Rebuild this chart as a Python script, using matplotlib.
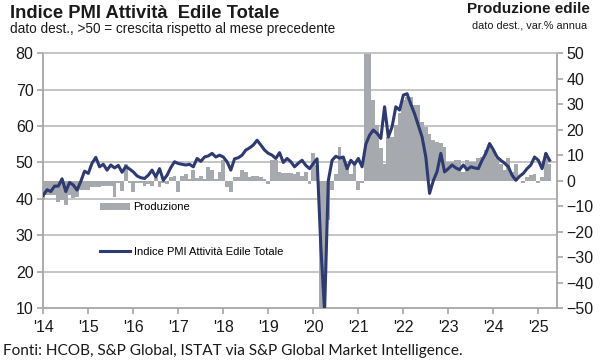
import numpy as np
import matplotlib.pyplot as plt
from matplotlib.patches import Patch
from matplotlib.lines import Line2D

plt.rcParams['font.family'] = ['Liberation Sans', 'DejaVu Sans']

# monthly data, Jan 2014 - Apr 2025
pmi_2014 = [41, 42.5, 42, 43.5, 43.5, 45.5, 42, 44.5, 43.8, 42.4, 44.8, 47.6]
pmi_2015 = [47, 49.8, 51.4, 48.8, 49.5, 47.9, 49.3, 48.5, 49.2, 47.3, 48.9, 48.2]
pmi_2016 = [47.4, 46.3, 45.8, 45.6, 46.5, 47.9, 46, 48.3, 45.1, 46.5, 48.6, 50.2]
pmi_2017 = [49.7, 49.5, 49.3, 49.5, 48.8, 51.1, 50.3, 51.5, 51.8, 52.5, 51.5, 52]
pmi_2018 = [51.5, 50.2, 47.9, 51, 51.3, 52, 53.4, 54, 54.8, 56.1, 54.8, 53.4]
pmi_2019 = [52.5, 52, 51.1, 52.7, 50, 51.1, 50.2, 48.8, 49.8, 50.6, 49.2, 48.3]
pmi_2020 = [49.7, 51, 27, 9, 45, 50.6, 51.7, 51.2, 51.5, 48.3, 50.6, 49.5]
pmi_2021 = [51.1, 48.8, 55, 57.5, 58.9, 58, 56.6, 65.3, 57, 59.8, 65.3, 64.4]
pmi_2022 = [68.5, 68.9, 66, 63.4, 60.2, 57, 51.5, 41.5, 45, 47.5, 52.5, 47.4]
pmi_2023 = [48.3, 49.3, 48.5, 48, 49.3, 48, 48.8, 48.5, 48.3, 50.6, 52.5, 55.2]
pmi_2024 = [53.5, 51.5, 50.6, 49.8, 48.8, 46.5, 45.1, 46.2, 47, 48.3, 49.3, 51.5]
pmi_2025 = [50.6, 48.3, 52.5, 50.6]

prod_2014 = [-7.5, -5.5, -5.5, -5.5, -8.5, -7.5, -9.5, -5.5, -7, -6.5, -3.5, -3.5]
prod_2015 = [-3.5, -2.5, -2.5, -2.5, -2, -2, -2, -6.5, -1, -4, 6.5, -1]
prod_2016 = [-4.4, -1, -1, -2, -1.5, -2, 1, -2.5, -1, -1.5, 1.5, 2]
prod_2017 = [-4.4, 2, 2.5, 0.5, 4, 1, 2, 0.5, 5.5, 4, 0.5, 3.4]
prod_2018 = [8, -2.5, -4.5, 1.5, 1.5, 4, 3.5, 1.5, 2, 2, 1.5, 0.5]
prod_2019 = [-1.5, 8, 8, 3.5, 3, 3, 3, 2.5, 3.5, 2, 3.4, -1.5]
prod_2020 = [10.7, 6, -55, -68, -15.5, -3.7, 2.7, 13.3, 9.3, 5, 2.5, 6.5]
prod_2021 = [-3.7, -1, 65, 120, 31.6, 21.8, 12.7, 6.7, 17, 17, 21.8, 26.5]
prod_2022 = [31.6, 32.9, 32.9, 29.6, 29.6, 23, 21, 18.5, 15.9, 15, 14.6, 13.3]
prod_2023 = [7.3, 7.3, 8, 8, 3.5, 8, 7.3, 7.3, 8.7, 9.3, 12, 14.6]
prod_2024 = [12, 8.7, 6.7, 4.1, 8.7, 3.5, 6.7, 0, -1, 1.5, 2.2, 2.8]
prod_2025 = [-1, 1.5, 10.7, 6.7]

year_labels = ["'14", "'15", "'16", "'17", "'18", "'19", "'20", "'21", "'22", "'23", "'24", "'25"]

pmi = (pmi_2014 + pmi_2015 + pmi_2016 + pmi_2017 + pmi_2018 + pmi_2019
       + pmi_2020 + pmi_2021 + pmi_2022 + pmi_2023 + pmi_2024 + pmi_2025)
prod = (prod_2014 + prod_2015 + prod_2016 + prod_2017 + prod_2018 + prod_2019
        + prod_2020 + prod_2021 + prod_2022 + prod_2023 + prod_2024 + prod_2025)
months = np.arange(len(pmi))

left_lim = (10, 80)
right_lim = (-50, 50)
left_ticks = np.arange(10, 81, 10)
right_ticks = np.arange(-50, 51, 10)


def left_to_right(v):
    return right_lim[0] + (v - left_lim[0]) * (right_lim[1] - right_lim[0]) / (left_lim[1] - left_lim[0])


grid_c = '#BFBFBF'
axis_c = '#A6A6A6'
bar_c = '#A6A9AD'
line_c = '#2E3A72'
text_c = '#1A1A1A'

fig = plt.figure(figsize=(6, 3.6), dpi=100)
ax_bar = fig.add_axes([43.3 / 600, 1 - 308 / 360, (556.7 - 43.3) / 600, (308 - 53.3) / 360])
ax_pmi = ax_bar.twinx()

# production bars on the right scale
ax_bar.bar(months, prod, width=1.0, color=bar_c, linewidth=0, zorder=2)
ax_bar.set_ylim(*right_lim)
ax_bar.set_xlim(0, 136.9)
ax_bar.yaxis.tick_right()
ax_bar.set_yticks(right_ticks)
ax_bar.set_yticks([left_to_right(v) for v in left_ticks[1:]], minor=True)
ax_bar.yaxis.grid(True, which='minor', color=grid_c, lw=1.3)
ax_bar.set_axisbelow(True)
ax_bar.tick_params(axis='y', which='minor', length=0)
ax_bar.tick_params(axis='y', which='major', direction='out', length=4, width=1.2,
                   color=axis_c, labelsize=11.5, labelcolor=text_c, pad=3)
ax_bar.set_xticks(np.arange(0, len(pmi) + 1, 12))
ax_bar.set_xticklabels(year_labels)
ax_bar.tick_params(axis='x', direction='out', length=4, width=1.2, color=axis_c,
                   labelsize=11.5, labelcolor=text_c, pad=5)
for side in ['left', 'right', 'bottom']:
    ax_bar.spines[side].set_color(axis_c)
    ax_bar.spines[side].set_linewidth(1.3)
ax_bar.spines['top'].set_color(grid_c)
ax_bar.spines['top'].set_linewidth(1.3)

# PMI line on the left scale
ax_pmi.plot(months, pmi, color=line_c, lw=2.2, solid_joinstyle='round', zorder=3)
ax_pmi.set_ylim(*left_lim)
ax_pmi.yaxis.tick_left()
ax_pmi.set_yticks(left_ticks)
ax_pmi.tick_params(axis='y', direction='out', length=4, width=1.2, color=axis_c,
                   labelsize=11.5, labelcolor=text_c, pad=3)
for s in ax_pmi.spines.values():
    s.set_visible(False)

handles = [Patch(facecolor=bar_c, edgecolor='none'), Line2D([], [], color=line_c, lw=2.2)]
ax_pmi.legend(handles, ['Produzione', 'Indice PMI Attività Edile Totale'],
              loc='upper left', bbox_to_anchor=(0.111, 0.415), frameon=False,
              fontsize=8, handlelength=2.7, handletextpad=0.3, labelspacing=3.1,
              borderpad=0, borderaxespad=0)

fig.text(10 / 600, 1 - 18.5 / 360, 'Indice PMI Attività  Edile Totale', fontsize=13.2,
         weight='bold', color=text_c, va='baseline')
fig.text(10 / 600, 1 - 33 / 360, 'dato dest., >50 = crescita rispetto al mese precedente',
         fontsize=9.8, color=text_c, va='baseline')
fig.text(590 / 600, 1 - 13 / 360, 'Produzione edile', fontsize=11, weight='bold',
         color=text_c, va='baseline', ha='right')
fig.text(587 / 600, 1 - 28 / 360, 'dato dest., var.% annua', fontsize=7.8,
         color=text_c, va='baseline', ha='right')
fig.text(3 / 600, 1 - 355 / 360,
         'Fonti: HCOB, S&P Global, ISTAT via S&P Global Market Intelligence.',
         fontsize=11.1, color=text_c, va='baseline', family=['Lato', 'DejaVu Sans'])

fig.savefig('out.png', dpi=100)
